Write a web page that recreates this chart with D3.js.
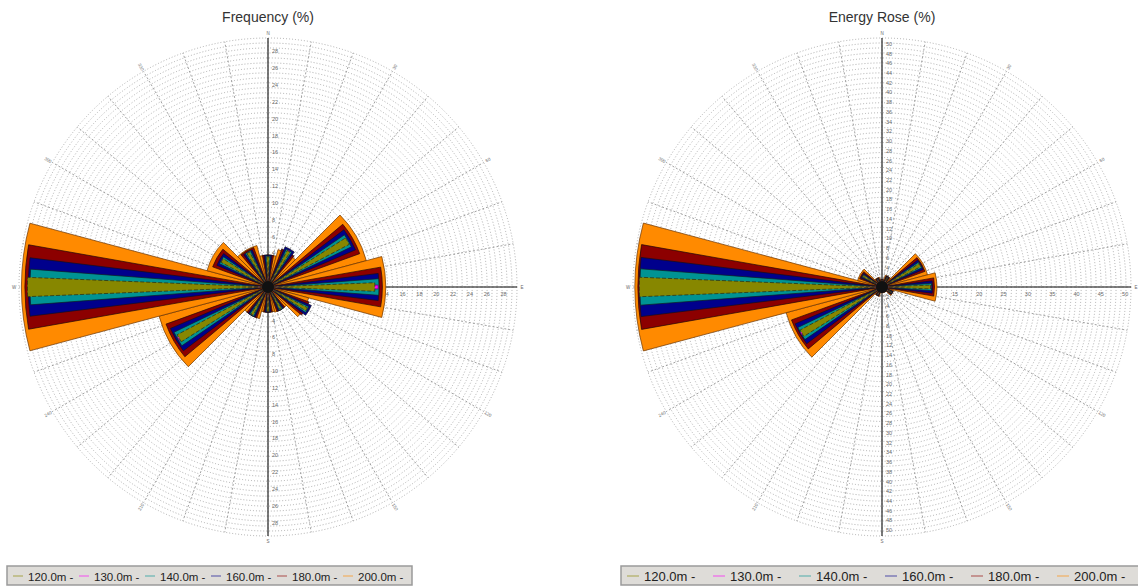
<!DOCTYPE html>
<html>
<head>
<meta charset="utf-8">
<script src="https://cdn.jsdelivr.net/npm/d3@7"></script>
<style>
  body { margin: 0; background: #fff; }
  svg { display: block; font-family: "Liberation Sans", Arial, sans-serif; }
</style>
</head>
<body>
<svg id="chart" width="1138" height="588"></svg>
<script>
// Sector directions (degrees, clockwise from north) and their compass labels
const directions = [0, 30, 60, 90, 120, 150, 180, 210, 240, 270, 300, 330];
const directionLabels = ["N", "30", "60", "E", "120", "150", "S", "210", "240", "W", "300", "330"];

// Measurement heights shown in the legend
const heights = ["120.0m", "130.0m", "140.0m", "160.0m", "180.0m", "200.0m"];

// Frequency (%) per direction, one array per height
const freq120 = [3.6, 4.9, 10.9, 12.7, 5.3, 3.0, 2.9, 3.8, 12.2, 28.6, 6.3, 4.7];
const freq130 = [3.6, 5.0, 10.8, 13.1, 5.3, 3.0, 2.9, 3.8, 12.3, 28.4, 6.3, 4.7];
const freq140 = [3.7, 5.0, 11.0, 13.2, 5.4, 3.1, 2.9, 3.9, 12.4, 28.3, 6.4, 4.8];
const freq160 = [3.8, 5.2, 11.3, 13.2, 5.6, 3.1, 3.0, 3.9, 12.6, 28.5, 6.6, 4.8];
const freq180 = [3.8, 4.8, 11.6, 13.6, 5.2, 3.1, 3.0, 3.9, 12.9, 28.9, 7.0, 5.0];
const freq200 = [3.8, 4.6, 12.1, 14.0, 5.0, 3.1, 3.0, 3.9, 13.4, 29.3, 7.5, 5.1];

// Energy rose (%) per direction, one array per height
const energy120 = [1.4, 2.2, 9.0, 10.0, 2.2, 1.0, 1.0, 1.8, 19.0, 49.9, 4.5, 1.8];
const energy130 = [1.4, 2.2, 9.0, 10.1, 2.2, 1.0, 1.0, 1.8, 19.2, 49.8, 4.5, 1.8];
const energy140 = [1.4, 2.3, 9.1, 10.2, 2.3, 1.1, 1.0, 1.9, 19.2, 49.8, 4.6, 1.9];
const energy160 = [1.5, 2.4, 9.2, 10.4, 2.4, 1.1, 1.1, 1.9, 19.4, 49.9, 4.7, 1.9];
const energy180 = [1.5, 2.4, 9.4, 10.8, 2.4, 1.1, 1.1, 2.0, 19.8, 50.2, 4.9, 2.0];
const energy200 = [1.6, 2.5, 9.7, 11.3, 2.5, 1.2, 1.2, 2.0, 20.4, 50.8, 5.2, 2.1];

// Axis tick values
const freqTicks = d3.range(2, 29, 2);
const energyTicks = d3.range(2, 51, 2);
const freqRadialTicks = d3.range(2, 29, 2);
const energyRadialTicks = d3.range(5, 51, 5);

// Styling per height: fill, outline and angular width of each wedge
const styles = [
  { color: "#878700", stroke: "#2a2a10", width: 4.6, dash: "4,2" },
  { color: "#ff00ff", stroke: "#5a005a", width: 2.0, dash: null },
  { color: "#009393", stroke: "#102020", width: 8.6, dash: null },
  { color: "#00008c", stroke: "#101020", width: 14, dash: null },
  { color: "#8c0000", stroke: "#200808", width: 20, dash: null },
  { color: "#ff8a00", stroke: "#6a3300", width: 30, dash: null }
];
// widest wedges first so the narrow ones stay visible on top
const drawOrder = [5, 4, 3, 2, 1, 0];

const svg = d3.select("#chart");
const R = 249;

function rose(opts) {
  const { cx, cy, title, series, maxValue, vTicks, hTicks } = opts;
  const g = svg.append("g").attr("transform", `translate(${cx},${cy})`);
  const r = d3.scaleLinear().domain([0, maxValue]).range([0, R]);

  // dotted concentric rings
  const grid = g.append("g");
  grid.selectAll("circle.ring")
    .data(d3.range(1, 51))
    .join("circle")
    .attr("r", i => R * i / 50)
    .attr("fill", "none")
    .attr("stroke", "#9a9a9a")
    .attr("stroke-width", 0.8)
    .attr("stroke-dasharray", "1,2");

  // dashed spokes every 10 degrees
  grid.selectAll("line.spoke")
    .data(d3.range(0, 360, 10))
    .join("line")
    .attr("x1", 0).attr("y1", 0)
    .attr("x2", a => R * Math.sin(a * Math.PI / 180))
    .attr("y2", a => -R * Math.cos(a * Math.PI / 180))
    .attr("stroke", "#8a8a8a")
    .attr("stroke-width", 0.8)
    .attr("stroke-dasharray", "2,2");

  // main axes
  g.append("line").attr("x1", 0).attr("x2", 0).attr("y1", -R).attr("y2", R)
    .attr("stroke", "#5a5a5a").attr("stroke-width", 1.6);
  g.append("line").attr("x1", 0).attr("x2", R).attr("y1", 0).attr("y2", 0)
    .attr("stroke", "#5a5a5a").attr("stroke-width", 1.6);

  // tick labels along the vertical axis (both directions) and the east axis
  const tickG = g.append("g").attr("font-size", 5.5).attr("fill", "#6a6a6a");
  vTicks.forEach(v => {
    [-1, 1].forEach(s => {
      tickG.append("text").attr("x", 4).attr("y", s * r(v) + 2).text(v);
    });
  });
  hTicks.forEach(v => {
    tickG.append("text").attr("x", r(v)).attr("y", 9)
      .attr("text-anchor", "middle").text(v);
  });

  // compass / degree labels around the circle
  const lblG = g.append("g").attr("font-size", 4.5).attr("fill", "#6a6a6a");
  directions.forEach((d, i) => {
    const rad = d * Math.PI / 180;
    const x = 254 * Math.sin(rad), y = -254 * Math.cos(rad);
    const rot = d > 180 ? d + 90 : d - 90;
    lblG.append("text")
      .attr("transform", `translate(${x},${y}) rotate(${d % 90 === 0 ? 0 : rot})`)
      .attr("text-anchor", "middle")
      .attr("dy", "0.35em")
      .text(directionLabels[i]);
  });

  // wedges: one per height and direction
  const arc = d3.arc().innerRadius(0);
  const bars = g.append("g");
  drawOrder.forEach(h => {
    const st = styles[h];
    bars.append("g").selectAll("path")
      .data(directions.map((d, i) => ({ dir: d, value: series[h][i] })))
      .join("path")
      .attr("d", d => arc({
        outerRadius: r(d.value),
        startAngle: (d.dir - st.width / 2) * Math.PI / 180,
        endAngle: (d.dir + st.width / 2) * Math.PI / 180
      }))
      .attr("fill", st.color)
      .attr("stroke", st.stroke)
      .attr("stroke-width", 0.7)
      .attr("stroke-dasharray", st.dash);
  });
  g.append("circle").attr("r", 6).attr("fill", "#111");

  svg.append("text")
    .attr("x", cx).attr("y", 22)
    .attr("text-anchor", "middle")
    .attr("font-size", 14)
    .attr("fill", "#333")
    .text(title);
}

rose({
  cx: 268, cy: 287, title: "Frequency (%)",
  series: [freq120, freq130, freq140, freq160, freq180, freq200],
  maxValue: 29.6, vTicks: freqTicks, hTicks: freqRadialTicks
});
rose({
  cx: 882, cy: 287, title: "Energy Rose (%)",
  series: [energy120, energy130, energy140, energy160, energy180, energy200],
  maxValue: 51.2, vTicks: energyTicks, hTicks: energyRadialTicks
});

// legends
function legend(x, y, w, step, fontSize, lineLen) {
  const g = svg.append("g").attr("transform", `translate(${x},${y})`);
  g.append("rect").attr("width", w).attr("height", 19)
    .attr("fill", "#dedcd8").attr("stroke", "#9a9a9a").attr("stroke-width", 1.5);
  heights.forEach((h, i) => {
    const ix = 6 + i * step;
    g.append("line").attr("x1", ix).attr("x2", ix + lineLen).attr("y1", 10).attr("y2", 10)
      .attr("stroke", styles[i].color).attr("stroke-opacity", 0.55).attr("stroke-width", 1.2);
    g.append("text").attr("x", ix + lineLen + 5).attr("y", 14.5)
      .attr("font-size", fontSize).attr("fill", "#222").text(h + " -");
  });
}
legend(7, 566, 405, 66, 11.5, 10);
legend(621, 566, 530, 86, 13, 12);
</script>
</body>
